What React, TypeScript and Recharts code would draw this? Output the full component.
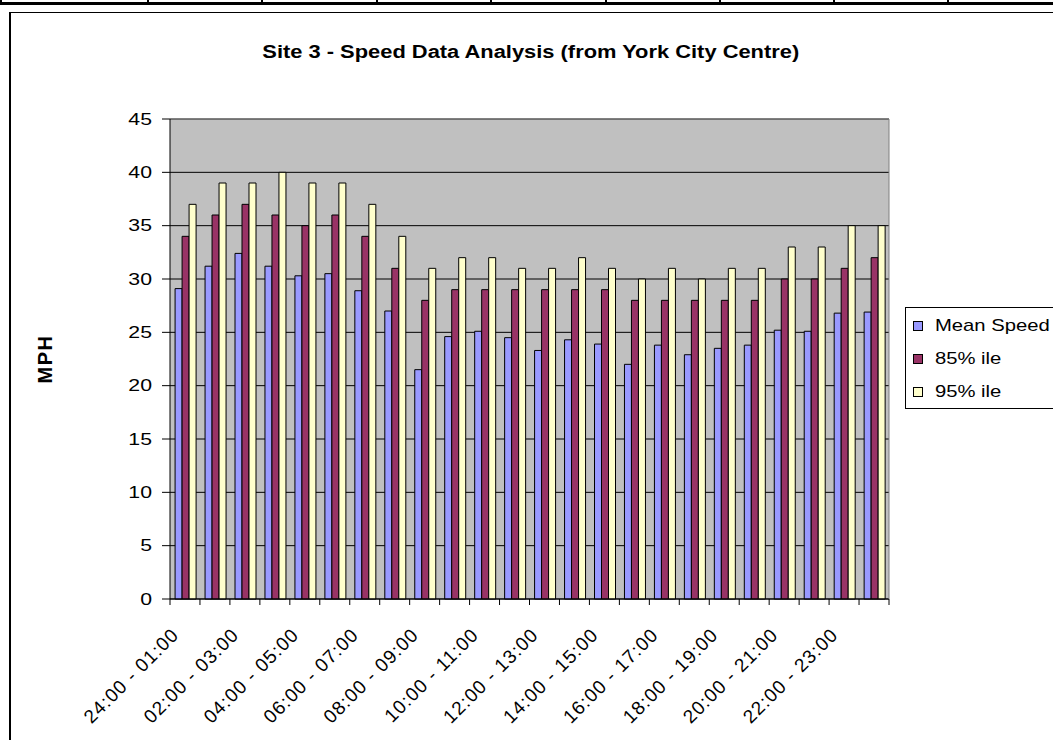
import React from 'react';
import { BarChart, Bar, XAxis, YAxis, CartesianGrid, Legend, ReferenceLine } from 'recharts';

const CATEGORIES = [
  '24:00 - 01:00', '01:00 - 02:00', '02:00 - 03:00', '03:00 - 04:00',
  '04:00 - 05:00', '05:00 - 06:00', '06:00 - 07:00', '07:00 - 08:00',
  '08:00 - 09:00', '09:00 - 10:00', '10:00 - 11:00', '11:00 - 12:00',
  '12:00 - 13:00', '13:00 - 14:00', '14:00 - 15:00', '15:00 - 16:00',
  '16:00 - 17:00', '17:00 - 18:00', '18:00 - 19:00', '19:00 - 20:00',
  '20:00 - 21:00', '21:00 - 22:00', '22:00 - 23:00', '23:00 - 24:00',
];
const MEAN_SPEED = [29.1, 31.2, 32.4, 31.2, 30.3, 30.5, 28.9, 27.0, 21.5, 24.6, 25.1, 24.5, 23.3, 24.3, 23.9, 22.0, 23.8, 22.9, 23.5, 23.8, 25.2, 25.1, 26.8, 26.9];
const P85 = [34, 36, 37, 36, 35, 36, 34, 31, 28, 29, 29, 29, 29, 29, 29, 28, 28, 28, 28, 28, 30, 30, 31, 32];
const P95 = [37, 39, 39, 40, 39, 39, 37, 34, 31, 32, 32, 31, 31, 32, 31, 30, 31, 30, 31, 31, 33, 33, 35, 35];
const Y_TICKS = [0, 5, 10, 15, 20, 25, 30, 35, 40, 45];
const SERIES = [
  { key: 'mean', name: 'Mean Speed', color: '#9999FF' },
  { key: 'p85', name: '85% ile', color: '#993366' },
  { key: 'p95', name: '95% ile', color: '#FFFFCC' },
];
const TITLE = 'Site 3 - Speed Data Analysis (from York City Centre)';
const Y_LABEL = 'MPH';

const data = CATEGORIES.map((c, i) => ({ cat: c, mean: MEAN_SPEED[i], p85: P85[i], p95: P95[i] }));

const FONT = '"Liberation Sans", Arial, sans-serif';
const W = 1053;
const H = 740;
const MARGIN = { top: 119, right: 163, bottom: 41, left: 110 };
const Y_W = 60;
const X_H = 100;
const PLOT_LEFT = MARGIN.left + Y_W;
const PLOT_RIGHT = W - MARGIN.right - 1;
const PLOT_BOTTOM = H - MARGIN.bottom - X_H;
const BAND = (PLOT_RIGHT - PLOT_LEFT) / CATEGORIES.length;

function XTick(props: any) {
  const { x, payload } = props;
  const i = props.index ?? payload?.index ?? 0;
  const ax = x - 5;
  const ay = PLOT_BOTTOM + 37;
  return (
    <g>
      <line x1={x - BAND / 2} x2={x - BAND / 2} y1={PLOT_BOTTOM} y2={PLOT_BOTTOM + 6} stroke="#000" />
      {i === CATEGORIES.length - 1 && (
        <line x1={x + BAND / 2} x2={x + BAND / 2} y1={PLOT_BOTTOM} y2={PLOT_BOTTOM + 6} stroke="#000" />
      )}
      {i % 2 === 0 && (
        <text
          x={ax}
          y={ay}
          transform={`rotate(-45 ${ax} ${ay})`}
          textAnchor="end"
          fontFamily={FONT}
          fontSize={19}
          letterSpacing={1}
          fill="#000"
        >
          {payload.value}
        </text>
      )}
    </g>
  );
}

function YTick(props: any) {
  const { x, y, payload } = props;
  return (
    <text
      transform={`translate(${x} ${y}) scale(1.25 1)`}
      textAnchor="end"
      dominantBaseline="central"
      fontFamily={FONT}
      fontSize={17}
      fill="#000"
    >
      {payload.value}
    </text>
  );
}

function YLabel(props: any) {
  const vb = props.viewBox || {};
  const cy = (vb.y ?? 119) + (vb.height ?? 480) / 2;
  const cx = 45;
  return (
    <text
      x={cx}
      y={cy}
      transform={`rotate(-90 ${cx} ${cy})`}
      textAnchor="middle"
      dominantBaseline="central"
      fontFamily={FONT}
      fontSize={20}
      fontWeight="bold"
      letterSpacing={1.5}
      fill="#000"
    >
      {Y_LABEL}
    </text>
  );
}

function LegendBox() {
  return (
    <div
      style={{
        border: '1px solid #000',
        background: '#fff',
        width: 200,
        height: 102,
        boxSizing: 'border-box',
        paddingTop: 1,
        fontFamily: FONT,
        fontSize: 17,
        color: '#000',
      }}
    >
      {SERIES.map((s) => (
        <div key={s.key} style={{ height: 33, display: 'flex', alignItems: 'center', whiteSpace: 'nowrap' }}>
          <span
            style={{
              display: 'inline-block',
              width: 10,
              height: 10,
              boxSizing: 'border-box',
              border: '1px solid #000',
              background: s.color,
              marginLeft: 7,
              marginRight: 12,
              flex: 'none',
            }}
          />
          <span style={{ display: 'inline-block', transform: 'scaleX(1.19)', transformOrigin: 'left center' }}>{s.name}</span>
        </div>
      ))}
    </div>
  );
}

const TABLE_COLS = [1, 148, 262, 377, 491, 606, 720, 834, 948];

export default function App() {
  return (
    <div style={{ position: 'absolute', left: 0, top: 0, width: W, height: H, overflow: 'hidden', background: '#fff' }}>
      <div style={{ position: 'absolute', left: 0, top: 2, width: W, height: 3, background: '#000' }} />
      {TABLE_COLS.map((cx) => (
        <div key={cx} style={{ position: 'absolute', left: cx - 1, top: 0, width: 2, height: 5, background: '#000' }} />
      ))}
      <div style={{ position: 'absolute', left: 9, top: 12, width: 1200, height: 900, border: '1px solid #000', borderLeftWidth: 2 }} />
      <div
        style={{
          position: 'absolute',
          left: 0,
          width: 1062,
          top: 40,
          textAlign: 'center',
          lineHeight: '24px',
        }}
      >
        <span
          style={{
            display: 'inline-block',
            fontFamily: FONT,
            fontSize: 17.5,
            fontWeight: 'bold',
            color: '#000',
            transform: 'scaleX(1.25)',
            transformOrigin: 'center center',
            whiteSpace: 'nowrap',
          }}
        >
          {TITLE}
        </span>
      </div>
      <div style={{ position: 'absolute', left: 0, top: 0 }}>
        <BarChart width={W} height={H} data={data} margin={MARGIN} barCategoryGap="17%" barGap={0}>
          <CartesianGrid vertical={false} stroke="#000" fill="#C0C0C0" fillOpacity={1} />
          <XAxis
            dataKey="cat"
            interval={0}
            height={X_H}
            tickLine={false}
            axisLine={{ stroke: '#000' }}
            tick={<XTick />}
          />
          <YAxis
            width={Y_W}
            domain={[0, 45]}
            ticks={Y_TICKS}
            interval={0}
            tickSize={8}
            tickMargin={10}
            tickLine={{ stroke: '#000' }}
            axisLine={{ stroke: '#000' }}
            tick={<YTick />}
            label={<YLabel />}
          />
          <YAxis
            yAxisId="r"
            orientation="right"
            width={1}
            domain={[0, 45]}
            tick={false}
            tickLine={false}
            axisLine={{ stroke: '#808080' }}
          />
          <ReferenceLine y={45} stroke="#808080" />
          {SERIES.map((s) => (
            <Bar
              key={s.key}
              dataKey={s.key}
              name={s.name}
              fill={s.color}
              stroke="#000"
              strokeWidth={1}
              isAnimationActive={false}
            />
          ))}
          <Legend
            layout="vertical"
            align="center"
            verticalAlign="middle"
            content={<LegendBox />}
            wrapperStyle={{ position: 'absolute', left: 905, top: 307, width: 200, height: 102 }}
          />
        </BarChart>
      </div>
    </div>
  );
}
